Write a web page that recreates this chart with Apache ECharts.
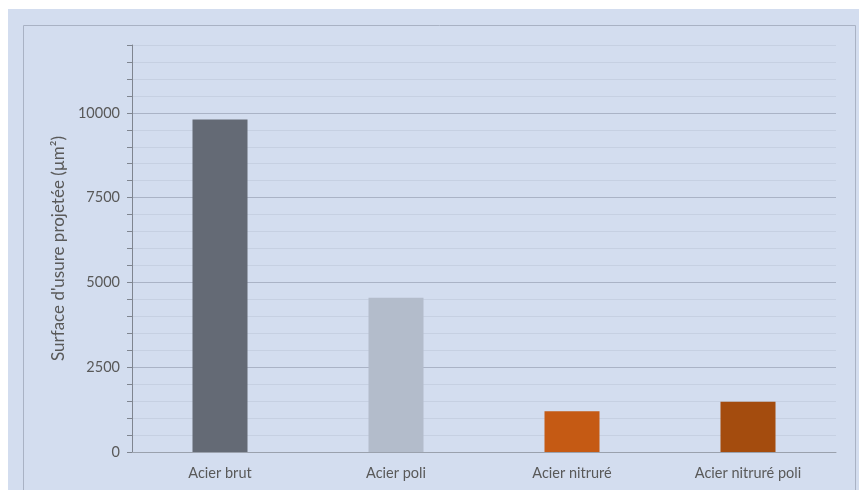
<!DOCTYPE html>
<html><head><meta charset="utf-8">
<script src="https://cdn.jsdelivr.net/npm/echarts@6/dist/echarts.min.js"></script>
<style>html,body{margin:0;padding:0;background:#fff;}#c{width:859px;height:490px;}</style>
</head><body><div id="c"></div>
<script>
const categories = ['Acier brut', 'Acier poli', 'Acier nitruré', 'Acier nitruré poli'];
const values = [9800, 4550, 1200, 1480];
const barColors = ['#646a75', '#b3bccb', '#c55a14', '#a44c0e'];
const yTitle = "Surface d'usure projetée (µm²)";

const chart = echarts.init(document.getElementById('c'), null, {renderer: 'canvas'});
const font = 'Lato, "Noto Sans", sans-serif';
chart.setOption({
  animation: false,
  backgroundColor: '#ffffff',
  graphic: [
    {type: 'rect', z: -10, silent: true, shape: {x: 8, y: 9, width: 851, height: 481}, style: {fill: '#d3ddef'}},
    {type: 'rect', z: -9, silent: true, shape: {x: 23.5, y: 25.5, width: 832, height: 480}, style: {fill: 'none', stroke: '#a9b2c4', lineWidth: 1}}
  ],
  grid: {left: 132, top: 45, right: 23, bottom: 38, containLabel: false},
  xAxis: {
    type: 'category',
    data: categories,
    axisLine: {lineStyle: {color: '#9aa1ad', width: 1}},
    axisTick: {show: false},
    axisLabel: {color: '#595959', fontSize: 14.5, fontFamily: font, margin: 14}
  },
  yAxis: {
    type: 'value',
    min: 0, max: 12000, interval: 500,
    name: yTitle,
    nameLocation: 'middle',
    nameGap: 64,
    nameRotate: 90,
    nameTextStyle: {color: '#595959', fontSize: 17, fontFamily: font},
    axisLine: {show: true, lineStyle: {color: '#7f8590', width: 1}},
    axisTick: {show: true, length: 5, lineStyle: {color: '#7f8590'}},
    axisLabel: {
      color: '#595959', fontSize: 14.5, fontFamily: font, margin: 12,
      formatter: v => (v % 2500 === 0 ? String(v) : '')
    },
    splitLine: {show: true, lineStyle: {color: ['#aab3c6', '#c6d0e2', '#c6d0e2', '#c6d0e2', '#c6d0e2'], width: 1}}
  },
  series: [{
    type: 'bar',
    barWidth: 55,
    data: values.map((v, i) => ({value: v, itemStyle: {color: barColors[i]}}))
  }]
});
</script></body></html>
